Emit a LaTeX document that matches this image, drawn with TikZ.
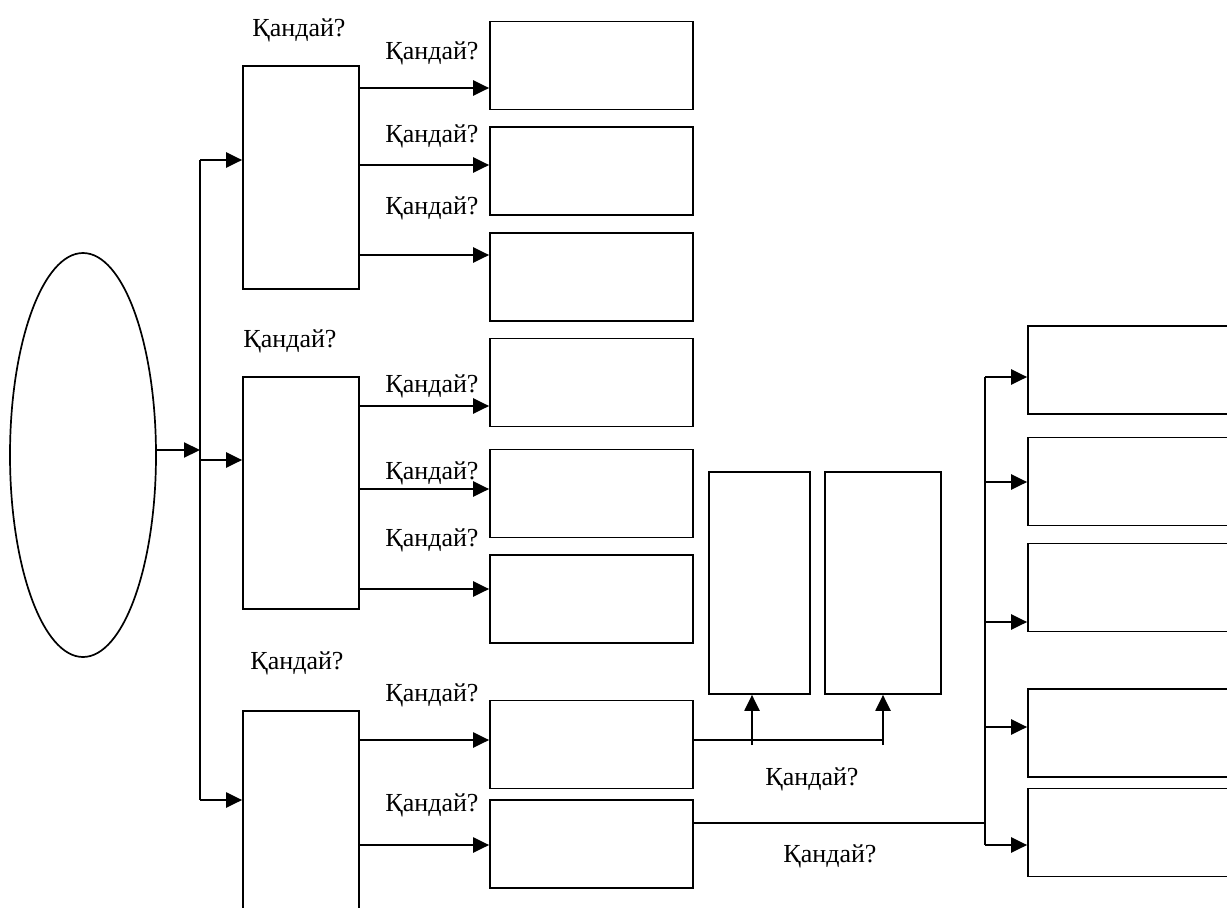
\documentclass[tikz,border=0pt]{standalone}
\usepackage{fontspec}
\setmainfont{Liberation Serif}
\usetikzlibrary{positioning, calc, shapes.geometric, arrows.meta}

\begin{document}
\begin{tikzpicture}[x=1pt, y=-1pt,
    box/.style={draw, line width=1.7pt, inner sep=0pt},
    arr/.style={line width=2.2pt, -{Triangle[length=16pt, width=15pt]}},
    wire/.style={line width=2pt},
    ask/.style={font=\fontsize{26}{30}\selectfont, inner sep=0pt}]
    \useasboundingbox (0,0) rectangle (1227,908);
    \clip (0,0) rectangle (1227,908);

    \node (Top) at (83,455) [ellipse, draw, line width=1.7pt, minimum width=146pt, minimum height=404pt, inner sep=0pt] {};

    % left column
    \node (L1) at (301,177.5) [box, minimum width=116pt, minimum height=223pt] {};
    \node (L2) at (301,493) [box, minimum width=116pt, minimum height=232pt] {};
    \node (L3) at (301,831) [box, minimum width=116pt, minimum height=240pt] {};

    % middle column
    \foreach \i/\y in {1/65.5, 2/171, 3/277, 4/382.5, 5/493.5, 6/599, 7/744.5, 8/844}
    {
        \node (M\i) at (591.5,\y) [box, minimum width=203pt, minimum height=88pt] {};
    }

    \node (T1) at (759.5,583) [box, minimum width=101pt, minimum height=222pt] {};
    \node (T2) at (883,583) [box, minimum width=116pt, minimum height=222pt] {};

    % right column
    \foreach \i/\y in {1/370, 2/481.5, 3/587.5, 4/733, 5/832.5}
    {
        \node (R\i) at (1133,\y) [box, minimum width=210pt, minimum height=88pt] {};
    }

    \coordinate (busL) at (200,450);
    \coordinate (busR) at (985,823);

    \draw[arr] (Top.east |- busL) -- (busL);
    \draw[wire] (busL |- 0,160) -- (busL |- 0,800);
    \foreach \y in {160, 800}
        \draw[arr] (busL |- 0,\y) -- (L1.west |- 0,\y);
    \draw[arr] (busL |- 0,460) -- (L2.west |- 0,460);

    \draw[arr] (L1.east |- 0,88) -- (M1.west |- 0,88);
    \draw[arr] (L1.east |- 0,165) -- (M2.west |- 0,165);
    \draw[arr] (L1.east |- 0,255) -- (M3.west |- 0,255);
    \draw[arr] (L2.east |- 0,406) -- (M4.west |- 0,406);
    \draw[arr] (L2.east |- 0,489) -- (M5.west |- 0,489);
    \draw[arr] (L2.east |- 0,589) -- (M6.west |- 0,589);
    \draw[arr] (L3.east |- 0,740) -- (M7.west |- 0,740);
    \draw[arr] (L3.east |- 0,845) -- (M8.west |- 0,845);

    \draw[wire] (M7.east |- 0,740) -- (T2.south |- 0,740);
    \draw[arr] (752,745) -- (752,0 |- T1.south);
    \draw[arr] (T2.south |- 0,745) -- (T2.south);

    \draw[wire] (M8.east |- busR) -- (busR);
    \draw[wire] (busR |- 0,377) -- (busR |- 0,845);
    \draw[arr] (busR |- 0,377) -- (R1.west |- 0,377);
    \draw[arr] (busR |- 0,482) -- (R2.west |- 0,482);
    \draw[arr] (busR |- 0,622) -- (R3.west |- 0,622);
    \draw[arr] (busR |- 0,727) -- (R4.west |- 0,727);
    \draw[arr] (busR |- 0,845) -- (R5.west |- 0,845);

    % labels
    \node (Q1) at (299,30) [ask] {Қандай?};
    \node (Q2) at (290,341) [ask] {Қандай?};
    \node (Q3) at (297,663) [ask] {Қандай?};
    \foreach \i/\y in {1/53, 2/136, 3/208, 4/386, 5/473, 6/540, 7/695, 8/805}
    {
        \node (A\i) at (432,\y) [ask] {Қандай?};
    }
    \node (B1) at (812,779) [ask] {Қандай?};
    \node (B2) at (830,856) [ask] {Қандай?};
\end{tikzpicture}
\end{document}
